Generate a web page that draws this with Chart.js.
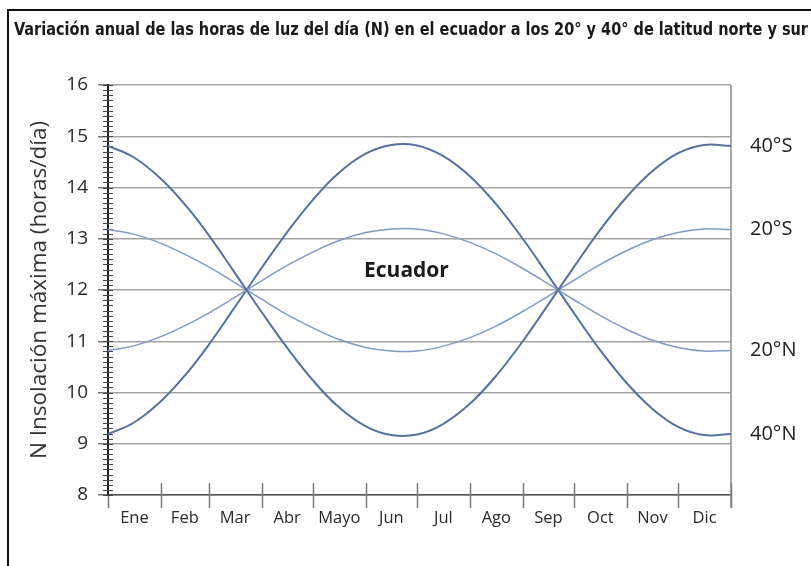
<!DOCTYPE html>
<html>
<head>
<meta charset="utf-8">
<script src="https://cdn.jsdelivr.net/npm/chart.js@4.4.1/dist/chart.umd.min.js"></script>
<style>
  html, body { margin: 0; padding: 0; background: #fff; }
  #wrap { width: 811px; height: 566px; }
</style>
</head>
<body>
<div id="wrap"><canvas id="myChart"></canvas></div>
<script>
// Data (x = day of the year, y = hours of daylight)
const days =   [0, 15, 31, 46, 59, 74, 90, 105, 120, 135, 151, 166, 181, 196, 212, 227, 243, 258, 273, 288, 304, 319, 334, 349, 365];
const lat40S = [14.81, 14.59, 14.17, 13.63, 13.07, 12.35, 11.57, 10.87, 10.24, 9.72, 9.34, 9.17, 9.18, 9.38, 9.78, 10.31, 11.00, 11.72, 12.45, 13.16, 13.82, 14.32, 14.67, 14.83, 14.81];
const lat20S = [13.18, 13.09, 12.91, 12.68, 12.45, 12.15, 11.82, 11.52, 11.26, 11.04, 10.88, 10.81, 10.81, 10.90, 11.07, 11.29, 11.58, 11.88, 12.19, 12.49, 12.77, 12.98, 13.12, 13.19, 13.18];
const lat20N = [10.82, 10.91, 11.09, 11.32, 11.55, 11.85, 12.18, 12.48, 12.74, 12.96, 13.12, 13.19, 13.19, 13.10, 12.93, 12.71, 12.42, 12.12, 11.81, 11.51, 11.23, 11.02, 10.88, 10.81, 10.82];
const lat40N = [9.19, 9.41, 9.83, 10.37, 10.93, 11.65, 12.43, 13.13, 13.76, 14.28, 14.66, 14.83, 14.82, 14.62, 14.22, 13.69, 13.00, 12.28, 11.55, 10.84, 10.18, 9.68, 9.33, 9.17, 9.19];

const monthNames = ['Ene', 'Feb', 'Mar', 'Abr', 'Mayo', 'Jun', 'Jul', 'Ago', 'Sep', 'Oct', 'Nov', 'Dic'];
const monthStarts = [0, 31, 59, 90, 120, 151, 181, 212, 243, 273, 304, 334, 365];
const monthMids = [15.5, 45, 74.5, 105, 135.5, 166, 196.5, 227.5, 258, 288.5, 319, 349.5];

const seriesNames = ['40°S', '20°S', '20°N', '40°N'];
const seriesValues = [lat40S, lat20S, lat20N, lat40N];

const titleText = 'Variación anual de las horas de luz del día (N) en el ecuador a los 20° y 40° de latitud norte y sur';
const yTitle = 'N Insolación máxima (horas/día)';
const ecuadorLabel = 'Ecuador';

const darkBlue = '#55729f';
const lightBlue = '#809bc4';

const datasets = seriesValues.map((vals, i) => ({
  label: seriesNames[i],
  data: vals.map((v, j) => ({ x: days[j], y: v })),
  borderColor: (i === 0 || i === 3) ? darkBlue : lightBlue,
  borderWidth: (i === 0 || i === 3) ? 2 : 1.5,
  pointRadius: 0,
  fill: false,
  tension: 0.4
}));

// Extra decorations: frame, title, minor ticks, month ticks, side labels
const decorations = {
  id: 'decorations',
  beforeDatasetsDraw(chart) {
    const { ctx, chartArea } = chart;
    const x = chart.scales.x, y = chart.scales.y;
    ctx.save();
    // right border of plot
    ctx.strokeStyle = '#8c8c8c';
    ctx.lineWidth = 1.5;
    ctx.beginPath();
    ctx.moveTo(chartArea.right, chartArea.top);
    ctx.lineTo(chartArea.right, chartArea.bottom + 13);
    ctx.stroke();
    // month boundary ticks
    ctx.strokeStyle = '#7a7a7a';
    monthStarts.forEach((d, i) => {
      const px = Math.round(x.getPixelForValue(d)) + 0.5;
      ctx.beginPath();
      ctx.moveTo(px, chartArea.bottom - (i === 0 ? 0 : 12));
      ctx.lineTo(px, chartArea.bottom + 13);
      ctx.stroke();
    });
    // y minor ticks every 0.1
    ctx.strokeStyle = '#444';
    ctx.lineWidth = 1;
    for (let k = 80; k <= 160; k++) {
      const py = Math.round(y.getPixelForValue(k / 10)) + 0.5;
      ctx.beginPath();
      ctx.moveTo(chartArea.left - 5, py);
      ctx.lineTo(chartArea.left + 5, py);
      ctx.stroke();
    }
    ctx.restore();
  },
  afterDraw(chart) {
    const { ctx, chartArea } = chart;
    const x = chart.scales.x, y = chart.scales.y;
    ctx.save();
    // outer frame
    ctx.strokeStyle = '#111';
    ctx.lineWidth = 2;
    ctx.beginPath();
    ctx.moveTo(8, chart.height);
    ctx.lineTo(8, 10);
    ctx.lineTo(chart.width, 10);
    ctx.stroke();
    // title, squeezed to the width it has in the figure
    ctx.save();
    ctx.fillStyle = '#1a1a1a';
    ctx.textBaseline = 'alphabetic';
    ctx.font = 'bold 17px "Liberation Sans Narrow", "DejaVu Sans Condensed", sans-serif';
    const w = ctx.measureText(titleText).width;
    ctx.translate(14, 35);
    ctx.scale(794 / w, 1);
    ctx.fillText(titleText, 0, 0);
    ctx.restore();
    // y axis title
    ctx.save();
    ctx.translate(40, (chartArea.top + chartArea.bottom) / 2);
    ctx.rotate(-Math.PI / 2);
    ctx.font = '22.5px "Open Sans", sans-serif';
    ctx.fillStyle = '#333';
    ctx.textAlign = 'center';
    ctx.textBaseline = 'middle';
    ctx.fillText(yTitle, 0, 0);
    ctx.restore();
    // series labels at the right end
    ctx.font = '20px "Open Sans", sans-serif';
    ctx.fillStyle = '#222';
    ctx.textAlign = 'left';
    ctx.textBaseline = 'middle';
    seriesNames.forEach((name, i) => {
      const vals = seriesValues[i];
      ctx.fillText(name, chartArea.right + 19, y.getPixelForValue(vals[vals.length - 1]));
    });
    // equator label
    ctx.font = 'bold 21px "Open Sans", sans-serif';
    ctx.fillStyle = '#1a1a1a';
    ctx.fillText(ecuadorLabel, x.getPixelForValue(150), y.getPixelForValue(12.38));
    ctx.restore();
  }
};

const chartConfig = {
  type: 'line',
  data: { datasets: datasets },
  options: {
    responsive: true,
    maintainAspectRatio: false,
    animation: false,
    layout: { padding: { top: 85, right: 80, left: 0, bottom: 0 } },
    scales: {
      x: {
        type: 'linear',
        min: 0,
        max: 365,
        afterFit: (s) => { s.height = 71; },
        afterBuildTicks: (s) => { s.ticks = monthMids.map(v => ({ value: v })); },
        grid: { display: true, drawOnChartArea: false, drawTicks: false },
        border: { color: '#555', width: 1.5 },
        ticks: {
          autoSkip: false,
          maxRotation: 0,
          padding: 13,
          color: '#2a2a2a',
          font: { family: 'Open Sans', size: 16.5 },
          callback: (v, i) => monthNames[i]
        }
      },
      y: {
        min: 8,
        max: 16,
        afterFit: (s) => { s.width = 108; },
        grid: { color: '#a3a3a3', lineWidth: 1.5, tickLength: 10, tickColor: '#777' },
        border: { color: '#222', width: 2 },
        ticks: {
          stepSize: 1,
          padding: 10,
          color: '#2a2a2a',
          font: { family: 'Open Sans', size: 19 }
        }
      }
    },
    plugins: {
      legend: { display: false },
      title: { display: false },
      tooltip: { enabled: false }
    }
  },
  plugins: [decorations]
};

const ctx = document.getElementById('myChart').getContext('2d');
const myChart = new Chart(ctx, chartConfig);
</script>
</body>
</html>
